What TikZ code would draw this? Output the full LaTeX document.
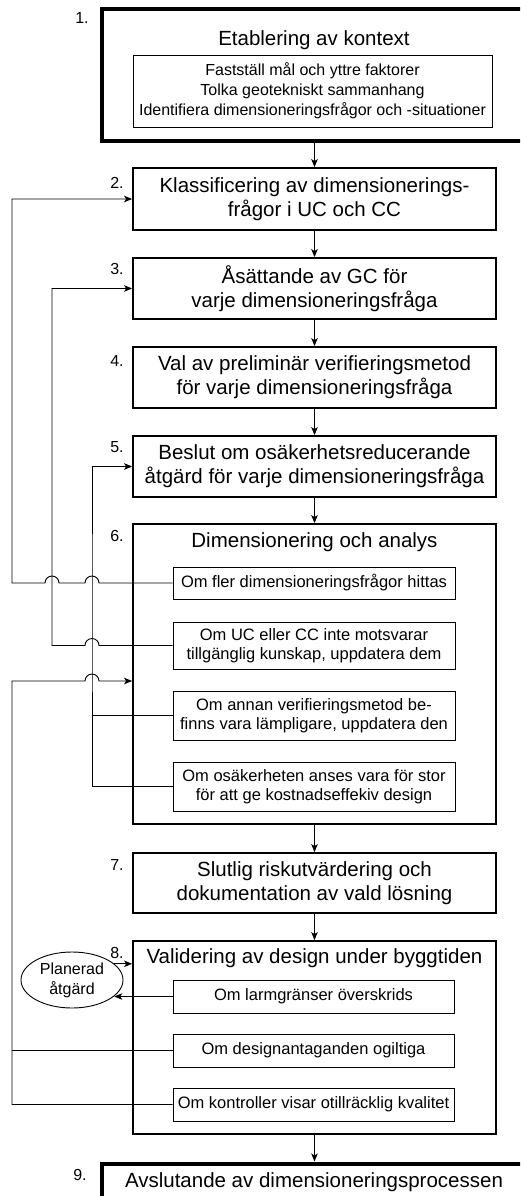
\documentclass[tikz,border=0pt]{standalone}
\usepackage{fontspec}
\setmainfont{Liberation Sans}
\usetikzlibrary{arrows.meta,shapes.geometric}
\begin{document}
\begin{tikzpicture}[x=1pt,y=-1pt,
  mainbox/.style={draw,line width=1.8pt,minimum width=363pt,inner sep=0pt,align=center,font=\fontsize{20.5}{24}\selectfont},
  thickbox/.style={draw,line width=4pt,inner sep=0pt},
  subbox/.style={draw,line width=0.9pt,minimum width=282pt,inner sep=0pt,align=center,font=\fontsize{16.5}{19}\selectfont},
  titletext/.style={inner sep=0pt,font=\fontsize{20.5}{24}\selectfont},
  numlbl/.style={inner sep=0pt,font=\fontsize{16}{19}\selectfont},
  con/.style={line width=0.9pt},
  arr/.style={-{Stealth[length=8pt,width=6.5pt,inset=2pt]}}
]
\useasboundingbox (0,0) rectangle (520,1196);
\clip (0,0) rectangle (520,1196);
\fill[white] (0,0) rectangle (520,1196);

% Box 1
\node[thickbox,minimum width=458.5pt,minimum height=131.5pt] (b1) at (330.75,75.25) {};
\node[titletext] (t1) at (314,40) {Etablering av kontext};
\node[draw,line width=0.9pt,minimum width=359pt,minimum height=72pt,inner sep=0pt,align=center,font=\fontsize{16}{20}\selectfont] (s1) at (312.5,91) {Fastställ mål och yttre faktorer\\Tolka geotekniskt sammanhang\\Identifiera dimensioneringsfrågor och -situationer};

% Main boxes
\node[mainbox,minimum height=62pt] (b2) at (314.5,199) {Klassificering av dimensionerings-\\frågor i UC och CC};
\node[mainbox,minimum height=61pt] (b3) at (314.5,288.5) {Åsättande av GC för\\varje dimensioneringsfråga};
\node[mainbox,minimum height=61pt] (b4) at (314.5,377.5) {Val av preliminär verifieringsmetod\\för varje dimensioneringsfråga};
\node[mainbox,minimum height=61pt] (b5) at (314.5,466.5) {Beslut om osäkerhetsreducerande\\åtgärd för varje dimensioneringsfråga};
\node[mainbox,minimum height=300pt] (b6) at (314.5,674) {};
\node[titletext] (t6) at (314.5,542) {Dimensionering och analys};
\node[subbox,minimum height=32pt] (s6a) at (314,583) {Om fler dimensioneringsfrågor hittas};
\node[subbox,minimum height=47pt] (s6b) at (314,645.5) {Om UC eller CC inte motsvarar\\tillgänglig kunskap, uppdatera dem};
\node[subbox,minimum height=49pt] (s6c) at (314,715.5) {Om annan verifieringsmetod be-\\finns vara lämpligare, uppdatera den};
\node[subbox,minimum height=49pt] (s6d) at (314,786.5) {Om osäkerheten anses vara för stor\\för att ge kostnadseffekiv design};
\node[mainbox,minimum height=60pt] (b7) at (314.5,883) {Slutlig riskutvärdering och\\dokumentation av vald lösning};
\node[mainbox,minimum height=193pt] (b8) at (314.5,1037.5) {};
\node[titletext] (t8) at (314.5,958) {Validering av design under byggtiden};
\node[subbox,minimum width=281pt,minimum height=33pt] (s8a) at (313.5,996.5) {Om larmgränser överskrids};
\node[subbox,minimum width=281pt,minimum height=33pt] (s8b) at (313.5,1050.5) {Om designantaganden ogiltiga};
\node[subbox,minimum width=281pt,minimum height=33pt] (s8c) at (313.5,1104.5) {Om kontroller visar otillräcklig kvalitet};
\node[ellipse,draw,line width=0.9pt,minimum width=102pt,minimum height=56pt,inner sep=0pt,align=center,font=\fontsize{16}{20}\selectfont] (pa) at (72,980) {Planerad\\åtgärd};

% Box 9
\node[thickbox,minimum width=458.5pt,minimum height=66.5pt] (b9) at (330.75,1196.75) {};
\node[titletext] (t9) at (314,1182) {Avslutande av dimensioneringsprocessen};

% Number labels
\node[numlbl] (n1) at (82,18) {1.};
\node[numlbl] (n2) at (117,183) {2.};
\node[numlbl] (n3) at (117,269) {3.};
\node[numlbl] (n4) at (117,361) {4.};
\node[numlbl] (n5) at (117,447) {5.};
\node[numlbl] (n6) at (117,536) {6.};
\node[numlbl] (n7) at (117,865) {7.};
\node[numlbl] (n8) at (117,953) {8.};
\node[numlbl] (n9) at (80,1175) {9.};

% Main flow arrows
\draw[con,arr] (b2.north |- b1.south) -- (b2.north);
\draw[con,arr] (b2.south) -- (b3.north);
\draw[con,arr] (b3.south) -- (b4.north);
\draw[con,arr] (b4.south) -- (b5.north);
\draw[con,arr] (b5.south) -- (b6.north);
\draw[con,arr] (b6.south) -- (b7.north);
\draw[con,arr] (b7.south) -- (b8.north);
\draw[con,arr] (b8.south) -- (b8.south |- b9.north);

% Feedback loops
\coordinate (j6) at (12,681);
\coordinate (v92) at (92,600);
\draw[con,arr] (s6d.west) -| (v92) |- (b5.west);
\draw[con] (s6c.west) -- (s6c.west -| v92);
\draw[con,arr] (s6b.west) -- (99,645.5) arc[start angle=0,end angle=180,radius=7pt] -- (52,645.5) |- (b3.west);
\draw[con,arr] (s6a.west) -- (99,583) arc[start angle=0,end angle=180,radius=7pt] -- (59,583) arc[start angle=0,end angle=180,radius=7pt] -- (12,583) |- (b2.west);
\draw[con,arr] (s8c.west) -| (j6) -- (85,681) arc[start angle=180,end angle=0,radius=7pt] -- (b6.west |- j6);
\draw[con] (s8b.west) -- (s8b.west -| j6);

% Planned action
\draw[con,arr] (pa.21) -- (pa.21 -| b8.west);
\draw[con,arr] (s8a.west) -- (s8a.west -| pa.-21);
\end{tikzpicture}
\end{document}
